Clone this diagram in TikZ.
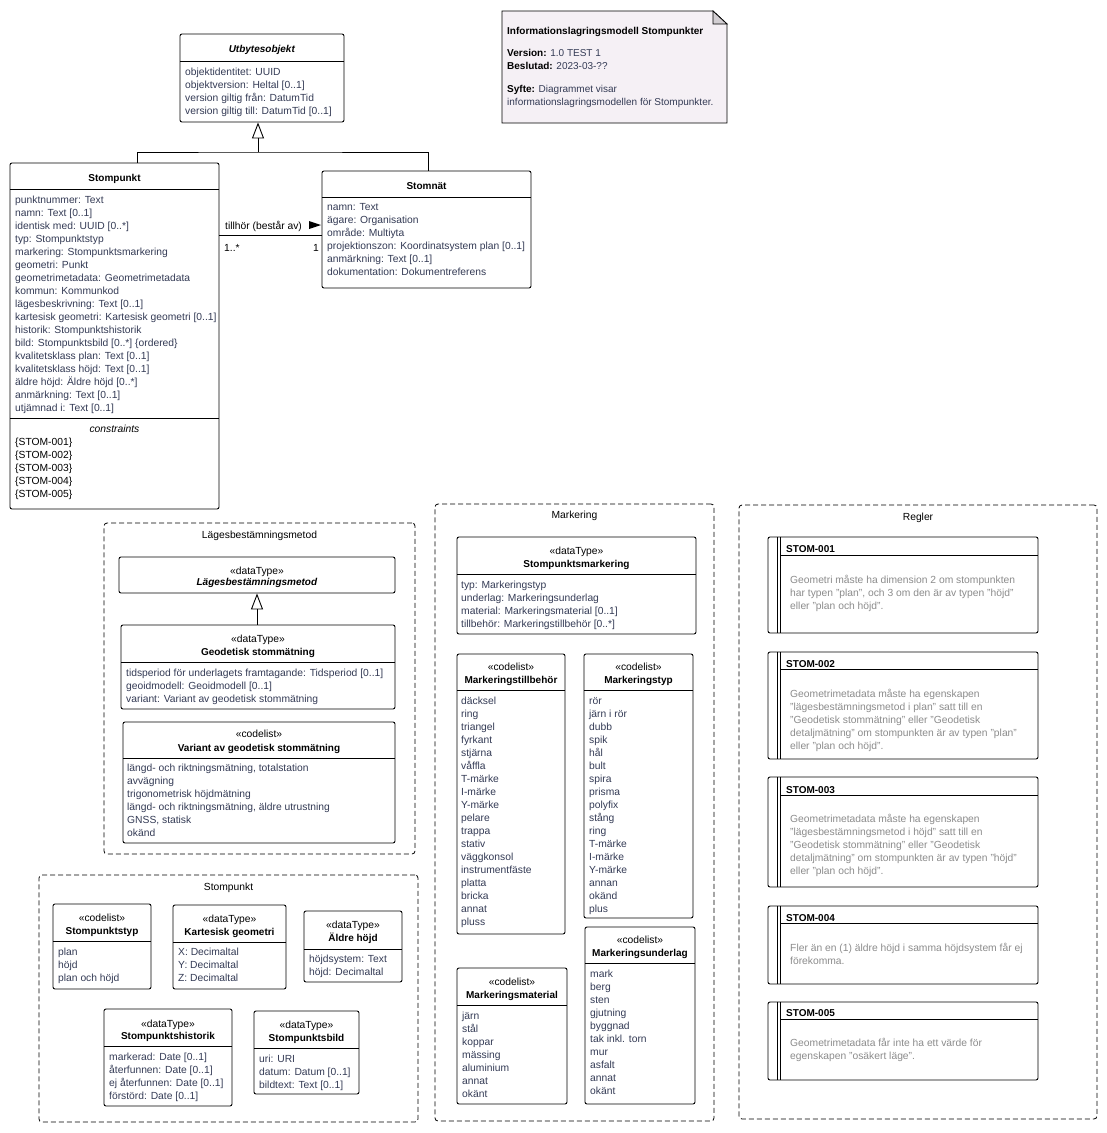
\documentclass[tikz,border=0pt]{standalone}
\usepackage{fontspec}
\setmainfont{Liberation Sans}
\usetikzlibrary{fit,arrows.meta}
\definecolor{attrc}{HTML}{343B55}
\definecolor{rulec}{HTML}{8C8C8C}
\definecolor{notefill}{HTML}{F5F0F5}
\definecolor{foldc}{HTML}{D2CED2}
\newcommand\attrfont{\fontsize{10.3}{13}\selectfont}
\newcommand\headfont{\bfseries\fontsize{10}{12}\selectfont}
\newcommand\notefont{\fontsize{10}{13}\selectfont}
\tikzset{
  box/.style={draw, fill=white, rounded corners=2pt, inner sep=0pt, line width=0.9pt},
  pkg/.style={draw, dash pattern=on 5pt off 3pt, rounded corners=3pt, inner sep=0pt, line width=0.8pt},
  sep/.style={line width=0.9pt},
  attr/.style={anchor=north west, align=left, inner sep=0pt, yshift=-1pt, font=\attrfont, text=attrc, execute at begin node=\strut},
  ruletext/.style={attr, text=rulec},
  head/.style={anchor=base, inner sep=0pt, font=\headfont},
  stereo/.style={anchor=base, inner sep=0pt, font=\attrfont},
  lbl/.style={inner sep=0pt, font=\attrfont},
  gen/.style={line width=0.9pt, -{Triangle[open, width=12pt, length=16pt]}},
}
\begin{document}
\begin{tikzpicture}[x=1pt, y=-1pt]
  \useasboundingbox (0,0) rectangle (1107,1133);

  % --- note ---
  \draw[fill=notefill, line width=0.8pt] (502,11) -- (713,11) -- (727,24) -- (727,123) -- (502,123) -- cycle;
  \draw[fill=foldc, line width=0.8pt] (713,11) -- (713,24) -- (727,24) -- cycle;
  \node[anchor=north west, align=left, inner sep=0pt, yshift=-1pt, font=\notefont, text=attrc, execute at begin node=\strut] (note) at (507,25.9)
    {\textcolor{black}{\bfseries Informationslagringsmodell Stompunkter}\\[9pt]
     \textcolor{black}{\bfseries Version:} 1.0 TEST 1\\
     \textcolor{black}{\bfseries Beslutad:} 2023-03-??\\[10pt]
     \textcolor{black}{\bfseries Syfte:} Diagrammet visar\\
     informationslagringsmodellen för Stompunkter.};

  % --- Utbytesobjekt ---
  \node[box, fit={(180,34) (344,122)}] (utb) {};
  \draw[sep] (180,61) -- (344,61);
  \node[head] (utb-name) at (utb.north |- 0,52) {\textit{Utbytesobjekt}};
  \node[attr] (utb-attr) at (185,66.9) {objektidentitet: UUID\\
    objektversion: Heltal [0..1]\\
    version giltig från: DatumTid\\
    version giltig till: DatumTid [0..1]};

  % --- Stompunkt ---
  \node[box, fit={(10,163) (219,509)}] (stp) {};
  \draw[sep] (10,189) -- (219,189);
  \draw[sep] (10,418) -- (219,418);
  \node[head] (stp-name) at (stp.north |- 0,181) {Stompunkt};
  \node[attr] (stp-attr) at (15,194.9) {punktnummer: Text\\
    namn: Text [0..1]\\
    identisk med: UUID [0..*]\\
    typ: Stompunktstyp\\
    markering: Stompunktsmarkering\\
    geometri: Punkt\\
    geometrimetadata: Geometrimetadata\\
    kommun: Kommunkod\\
    lägesbeskrivning: Text [0..1]\\
    kartesisk geometri: Kartesisk geometri [0..1]\\
    historik: Stompunktshistorik\\
    bild: Stompunktsbild [0..*] \{ordered\}\\
    kvalitetsklass plan: Text [0..1]\\
    kvalitetsklass höjd: Text [0..1]\\
    äldre höjd: Äldre höjd [0..*]\\
    anmärkning: Text [0..1]\\
    utjämnad i: Text [0..1]};
  \node[stereo] (stp-constr) at (stp.north |- 0,432.5) {\textit{constraints}};
  \node[attr, text=black] (stp-rules) at (15,436.9) {\{STOM-001\}\\
    \{STOM-002\}\\
    \{STOM-003\}\\
    \{STOM-004\}\\
    \{STOM-005\}};

  % --- Stomnät ---
  \node[box, fit={(322,171) (531,288)}] (stn) {};
  \draw[sep] (322,197) -- (531,197);
  \node[head] (stn-name) at (stn.north |- 0,189) {Stomnät};
  \node[attr] (stn-attr) at (327,201.9) {namn: Text\\
    ägare: Organisation\\
    område: Multiyta\\
    projektionszon: Koordinatsystem plan [0..1]\\
    anmärkning: Text [0..1]\\
    dokumentation: Dokumentreferens};

  % generalisering och association
  \coordinate (genjoin) at (258,152);
  \draw[sep] (stp.north -| 137,0) |- (genjoin) -| (stn.north -| 428,0);
  \draw[gen] (genjoin) -- (utb.south -| genjoin);
  \draw[sep] (stp.east |- 0,235) -- (stn.west |- 0,235);
  \node[lbl, anchor=base west] (assoc-name) at (225,229) {tillhör (består av)};
  \fill (309,221) -- (321,225) -- (309,229) -- cycle;
  \node[lbl, anchor=base west] (assoc-src) at (224,251) {1..*};
  \node[lbl, anchor=base east] (assoc-dst) at (319,251) {1};

  % --- paket Lägesbestämningsmetod ---
  \node[pkg, fit={(104,523) (415,854)}] (lbmpkg) {};
  \node[stereo] (lbmpkg-name) at (lbmpkg.north |- 0,538) {Lägesbestämningsmetod};
  \node[box, fit={(119,557) (395,593)}] (lbm) {};
  \node[stereo] (lbm-st) at (lbm.north |- 0,574) {«dataType»};
  \node[head] (lbm-name) at (lbm.north |- 0,585) {\textit{Lägesbestämningsmetod}};
  \node[box, fit={(121,625) (395,709)}] (geo) {};
  \draw[sep] (121,662) -- (395,662);
  \node[stereo] (geo-st) at (geo.north |- 0,642) {«dataType»};
  \node[head] (geo-name) at (geo.north |- 0,655) {Geodetisk stommätning};
  \node[attr] (geo-attr) at (126,667.9) {tidsperiod för underlagets framtagande: Tidsperiod [0..1]\\
    geoidmodell: Geoidmodell [0..1]\\
    variant: Variant av geodetisk stommätning};
  \draw[gen] (geo.north -| 257,0) -- (lbm.south -| 257,0);
  \node[box, fit={(123,722) (395,843)}] (var) {};
  \draw[sep] (123,758) -- (395,758);
  \node[stereo] (var-st) at (var.north |- 0,737) {«codelist»};
  \node[head] (var-name) at (var.north |- 0,751) {Variant av geodetisk stommätning};
  \node[attr] (var-attr) at (127,762.9) {längd- och riktningsmätning, totalstation\\
    avvägning\\
    trigonometrisk höjdmätning\\
    längd- och riktningsmätning, äldre utrustning\\
    GNSS, statisk\\
    okänd};

  % --- paket Markering ---
  \node[pkg, fit={(435,504) (714,1121)}] (markpkg) {};
  \node[stereo] (markpkg-name) at (markpkg.north |- 0,518) {Markering};
  \node[box, fit={(457,537) (696,634)}] (smark) {};
  \draw[sep] (457,574) -- (696,574);
  \node[stereo] (smark-st) at (smark.north |- 0,554) {«dataType»};
  \node[head] (smark-name) at (smark.north |- 0,567) {Stompunktsmarkering};
  \node[attr] (smark-attr) at (461,579.9) {typ: Markeringstyp\\
    underlag: Markeringsunderlag\\
    material: Markeringsmaterial [0..1]\\
    tillbehör: Markeringstillbehör [0..*]};
  \node[box, fit={(457,654) (565,934)}] (mtill) {};
  \draw[sep] (457,690) -- (565,690);
  \node[stereo] (mtill-st) at (mtill.north |- 0,670) {«codelist»};
  \node[head] (mtill-name) at (mtill.north |- 0,683) {Markeringstillbehör};
  \node[attr] (mtill-attr) at (461,695.9) {däcksel\\ ring\\ triangel\\ fyrkant\\ stjärna\\ våffla\\
    T-märke\\ I-märke\\ Y-märke\\ pelare\\ trappa\\ stativ\\ väggkonsol\\ instrumentfäste\\
    platta\\ bricka\\ annat\\ pluss};
  \node[box, fit={(584,654) (693,918)}] (mtyp) {};
  \draw[sep] (584,690) -- (693,690);
  \node[stereo] (mtyp-st) at (mtyp.north |- 0,670) {«codelist»};
  \node[head] (mtyp-name) at (mtyp.north |- 0,683) {Markeringstyp};
  \node[attr] (mtyp-attr) at (589,695.9) {rör\\ järn i rör\\ dubb\\ spik\\ hål\\ bult\\ spira\\
    prisma\\ polyfix\\ stång\\ ring\\ T-märke\\ I-märke\\ Y-märke\\ annan\\ okänd\\ plus};
  \node[box, fit={(457,968) (567,1104)}] (mmat) {};
  \draw[sep] (457,1005) -- (567,1005);
  \node[stereo] (mmat-st) at (mmat.north |- 0,985) {«codelist»};
  \node[head] (mmat-name) at (mmat.north |- 0,998) {Markeringsmaterial};
  \node[attr] (mmat-attr) at (462,1010.9) {järn\\ stål\\ koppar\\ mässing\\ aluminium\\ annat\\ okänt};
  \node[box, fit={(585,927) (695,1104)}] (mund) {};
  \draw[sep] (585,963) -- (695,963);
  \node[stereo] (mund-st) at (mund.north |- 0,943) {«codelist»};
  \node[head] (mund-name) at (mund.north |- 0,956) {Markeringsunderlag};
  \node[attr] (mund-attr) at (590,968.9) {mark\\ berg\\ sten\\ gjutning\\ byggnad\\ tak inkl. torn\\
    mur\\ asfalt\\ annat\\ okänt};

  % --- paket Stompunkt ---
  \node[pkg, fit={(39,875) (418,1122)}] (stppkg) {};
  \node[stereo] (stppkg-name) at (stppkg.north |- 0,890) {Stompunkt};
  \node[box, fit={(53,904) (151,989)}] (sptyp) {};
  \draw[sep] (53,941) -- (151,941);
  \node[stereo] (sptyp-st) at (sptyp.north |- 0,921) {«codelist»};
  \node[head] (sptyp-name) at (sptyp.north |- 0,934) {Stompunktstyp};
  \node[attr] (sptyp-attr) at (58,946.9) {plan\\ höjd\\ plan och höjd};
  \node[box, fit={(173,905) (286,989)}] (kart) {};
  \draw[sep] (173,942) -- (286,942);
  \node[stereo] (kart-st) at (kart.north |- 0,922) {«dataType»};
  \node[head] (kart-name) at (kart.north |- 0,935) {Kartesisk geometri};
  \node[attr] (kart-attr) at (178,946.9) {X: Decimaltal\\ Y: Decimaltal\\ Z: Decimaltal};
  \node[box, fit={(304,911) (402,982)}] (aldre) {};
  \draw[sep] (304,949) -- (402,949);
  \node[stereo] (aldre-st) at (aldre.north |- 0,928) {«dataType»};
  \node[head] (aldre-name) at (aldre.north |- 0,941) {Äldre höjd};
  \node[attr] (aldre-attr) at (309,953.9) {höjdsystem: Text\\ höjd: Decimaltal};
  \node[box, fit={(104,1009) (232,1106)}] (hist) {};
  \draw[sep] (104,1046) -- (232,1046);
  \node[stereo] (hist-st) at (hist.north |- 0,1027) {«dataType»};
  \node[head] (hist-name) at (hist.north |- 0,1039) {Stompunktshistorik};
  \node[attr] (hist-attr) at (109,1051.9) {markerad: Date [0..1]\\
    återfunnen: Date [0..1]\\
    ej återfunnen: Date [0..1]\\
    förstörd: Date [0..1]};
  \node[box, fit={(254,1011) (359,1094)}] (bild) {};
  \draw[sep] (254,1048) -- (359,1048);
  \node[stereo] (bild-st) at (bild.north |- 0,1028) {«dataType»};
  \node[head] (bild-name) at (bild.north |- 0,1041) {Stompunktsbild};
  \node[attr] (bild-attr) at (259,1053.9) {uri: URI\\ datum: Datum [0..1]\\ bildtext: Text [0..1]};

  % --- paket Regler ---
  \node[pkg, fit={(739,505) (1097,1119)}] (regpkg) {};
  \node[stereo] (regpkg-name) at (regpkg.north |- 0,520) {Regler};
  \node[box, fit={(768,537) (1038,633)}] (r1) {};
  \draw[sep] (777.5,537) -- (777.5,633);
  \draw[sep] (780.5,537) -- (780.5,633);
  \draw[sep] (780.5,555) -- (1038,555);
  \node[head, anchor=base west] (r1-name) at (786,552) {STOM-001};
  \node[ruletext] (r1-text) at (790,573.9) {Geometri måste ha dimension 2 om stompunkten\\
    har typen "plan", och 3 om den är av typen "höjd"\\
    eller "plan och höjd".};
  \node[box, fit={(768,652) (1038,759)}] (r2) {};
  \draw[sep] (777.5,652) -- (777.5,759);
  \draw[sep] (780.5,652) -- (780.5,759);
  \draw[sep] (780.5,669) -- (1038,669);
  \node[head, anchor=base west] (r2-name) at (786,667) {STOM-002};
  \node[ruletext] (r2-text) at (790,687.9) {Geometrimetadata måste ha egenskapen\\
    "lägesbestämningsmetod i plan" satt till en\\
    "Geodetisk stommätning" eller "Geodetisk\\
    detaljmätning" om stompunkten är av typen "plan"\\
    eller "plan och höjd".};
  \node[box, fit={(768,777) (1038,887)}] (r3) {};
  \draw[sep] (777.5,777) -- (777.5,887);
  \draw[sep] (780.5,777) -- (780.5,887);
  \draw[sep] (780.5,795) -- (1038,795);
  \node[head, anchor=base west] (r3-name) at (786,793) {STOM-003};
  \node[ruletext] (r3-text) at (790,812.9) {Geometrimetadata måste ha egenskapen\\
    "lägesbestämningsmetod i höjd" satt till en\\
    "Geodetisk stommätning" eller "Geodetisk\\
    detaljmätning" om stompunkten är av typen "höjd"\\
    eller "plan och höjd".};
  \node[box, fit={(768,906) (1038,984)}] (r4) {};
  \draw[sep] (777.5,906) -- (777.5,984);
  \draw[sep] (780.5,906) -- (780.5,984);
  \draw[sep] (780.5,923) -- (1038,923);
  \node[head, anchor=base west] (r4-name) at (786,921) {STOM-004};
  \node[ruletext] (r4-text) at (790,941.9) {Fler än en (1) äldre höjd i samma höjdsystem får ej\\
    förekomma.};
  \node[box, fit={(768,1002) (1038,1080)}] (r5) {};
  \draw[sep] (777.5,1002) -- (777.5,1080);
  \draw[sep] (780.5,1002) -- (780.5,1080);
  \draw[sep] (780.5,1019) -- (1038,1019);
  \node[head, anchor=base west] (r5-name) at (786,1016) {STOM-005};
  \node[ruletext] (r5-text) at (790,1036.9) {Geometrimetadata får inte ha ett värde för\\
    egenskapen "osäkert läge".};
\end{tikzpicture}
\end{document}
